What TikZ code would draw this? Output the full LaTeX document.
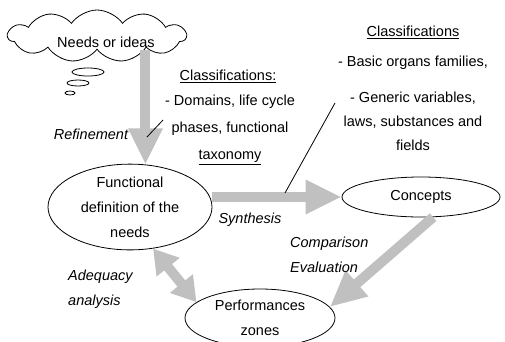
\documentclass[tikz,border=0pt]{standalone}
\usepackage{fontspec}
\setmainfont{Liberation Sans}
\usetikzlibrary{shapes.geometric,shapes.symbols,arrows.meta}
\definecolor{flowgray}{RGB}{192,192,192}
\tikzset{
    flow/.style = {draw=flowgray, line width=10pt,
        -{Triangle[length=36pt,width=32pt]}},
    twoway/.style = {draw=flowgray, line width=10pt,
        {Triangle[length=24pt,width=28pt]}-{Triangle[length=24pt,width=28pt]}},
    stage/.style = {draw, thick, ellipse, inner sep=0pt, align=center},
    note/.style = {align=center, inner sep=0pt},
    act/.style = {font=\fontsize{14.5}{25}\selectfont\itshape, align=left, inner sep=0pt}
}
\begin{document}
\begin{tikzpicture}[x=1pt, y=-1pt,
        every node/.style = {font=\fontsize{14.5}{25}\selectfont}]
    \useasboundingbox (0,0) rectangle (505,341);

    \node[cloud, draw, thick, cloud puffs=11, cloud puff arc=110, aspect=3.5,
        minimum width=178pt, minimum height=52pt, inner sep=0pt] (cloud) at (97,36) {};
    \node (needs) at (106,42) {Needs or ideas};
    \draw[thick] (88,72) ellipse [x radius=16, y radius=4];
    \draw[thick] (78,83) ellipse [x radius=11, y radius=3];
    \draw[thick] (70,93) ellipse [x radius=5, y radius=2];

    \node[stage, minimum width=164pt, minimum height=74pt] (func) at (130,207)
        {Functional\\definition of the\\needs};
    \node[stage, minimum width=158pt, minimum height=40pt] (conc) at (421,197) {Concepts};
    \node[stage, minimum width=150pt, minimum height=58pt] (perf) at (260,318)
        {Performances\\zones};

    \draw[flow] (cloud.south -| func.70) -- (func.70);
    \draw[flow] (func.east |- conc.west) -- (conc.west);
    \draw[flow] (conc.-59) -- (perf.9);
    \draw[twoway] (func.-61) -- (perf.166);

    \node[act, anchor=center] (refine) at (91,134) {Refinement};
    \node[act, anchor=center] (synth) at (250,220) {Synthesis};
    \node[act, anchor=west] (compare) at (290,254.5) {Comparison\\Evaluation};
    \node[act, anchor=west] (adequacy) at (68,289.5) {Adequacy\\analysis};

    \node[note] (classA) at (228,76) {\underline{Classifications:}};
    \node[note, font=\fontsize{14.5}{27}\selectfont] (domains) at (230,130)
        {- Domains, life cycle\\phases, functional\\\underline{taxonomy}};
    \node[note] (classB) at (413,32) {\underline{Classifications}};
    \node[note] (organs) at (413,63) {- Basic organs families,};
    \node[note, font=\fontsize{14.5}{24}\selectfont] (generic) at (413,121)
        {- Generic variables,\\laws, substances and\\fields};

    \coordinate (tagA) at (163,120);
    \coordinate (tagB) at (335,103);
    \draw[thick] (tagA) -- (147,137);
    \draw[thick] (tagB) -- (285,193);
\end{tikzpicture}
\end{document}
